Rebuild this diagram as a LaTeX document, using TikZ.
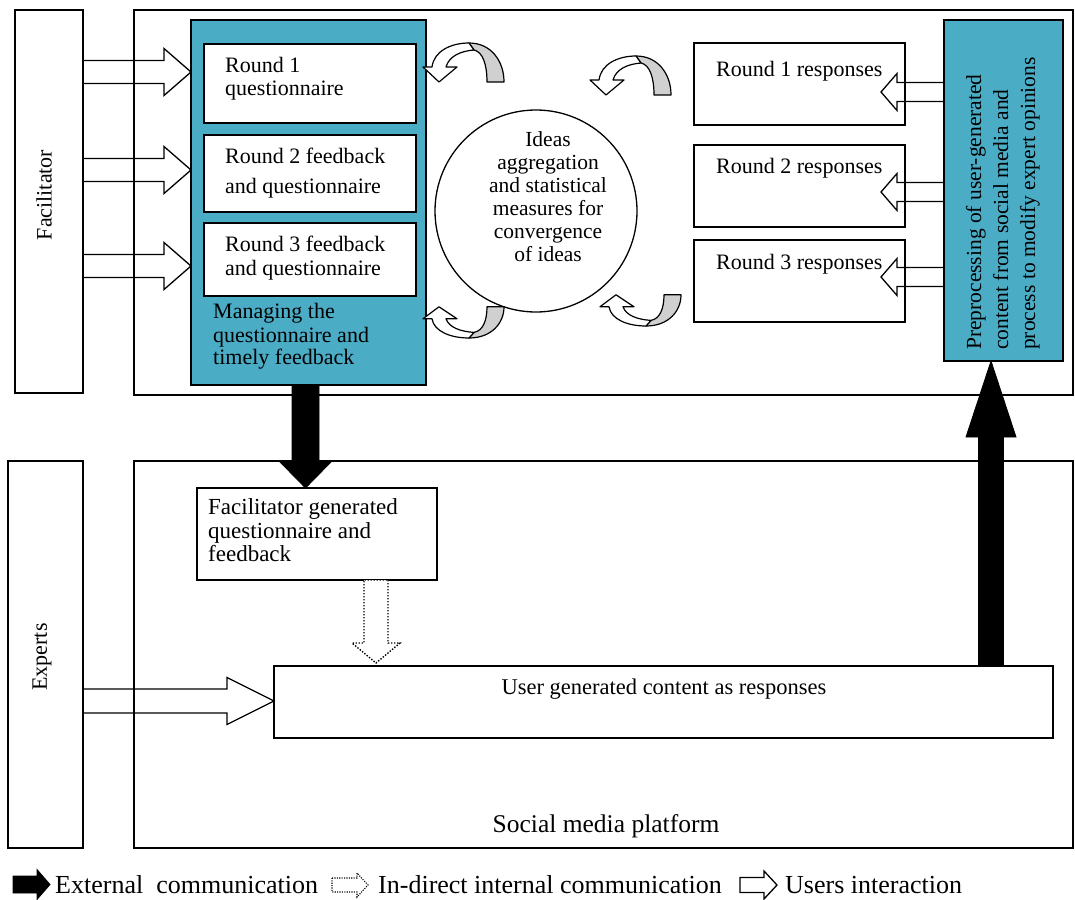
\documentclass[tikz,border=0pt]{standalone}
\usepackage{fontspec}
\setmainfont{Liberation Serif}
\usetikzlibrary{calc}
\definecolor{panelblue}{HTML}{4BACC6}
\definecolor{ribbongray}{HTML}{D0D0D0}

% block arrow: style, tail, tip, half shaft width, half head width, head length
\newcommand\blockarrow[6]{%
  \coordinate (ba-h) at ($(#3)!#6!(#2)$);
  \path[#1] ($(#2)!#4!90:(#3)$) -- ($(ba-h)!#4!90:(#3)$) -- ($(ba-h)!#5!90:(#3)$)
    -- (#3) -- ($(ba-h)!#5!-90:(#3)$) -- ($(ba-h)!#4!-90:(#3)$) -- ($(#2)!#4!-90:(#3)$) -- cycle;
}
% twisted curved ribbon arrow, drawn in local coordinates
\newcommand\ribbonarrow[1]{%
  \begin{scope}[#1]
    \path[ribbon, fill=ribbongray] (44,0) .. controls (66,0) and (79,18) .. (79,39)
      -- (62,39) .. controls (62,22) and (58,9) .. (49,7) -- cycle;
    \path[ribbon, fill=white] (7,24) .. controls (9,8) and (26,0) .. (44,0)
      -- (49,7) .. controls (36,8) and (24,13) .. (21,24) -- (32,24) -- (14,39) -- (-2,24) -- cycle;
  \end{scope}}

\tikzset{
  frame/.style={draw, line width=1.3pt, inner sep=0pt, outer sep=0pt, anchor=north west},
  box/.style={frame, fill=white},
  bluebox/.style={frame, fill=panelblue},
  lbl/.style={inner sep=0pt, font=\fontsize{22}{24}\selectfont},
  hollow/.style={draw, line width=1.3pt, line join=miter},
  extarrow/.style={draw, fill=black, line width=0.8pt},
  dotarrow/.style={draw, fill=white, line width=1.4pt, dash pattern=on 1.4pt off 1.6pt},
  ribbon/.style={draw, line width=1.2pt, line join=round},
}

\begin{document}
\begin{tikzpicture}[x=1pt, y=-1pt]
\useasboundingbox (0,0) rectangle (1075,899);

% ---------- upper frame: facilitator side ----------
\node[frame, minimum width=68pt, minimum height=383pt] (fac) at (15,10) {};
\node[lbl, rotate=90] (factxt) at (44,195) {Facilitator};
\node[frame, minimum width=939pt, minimum height=385pt] (top) at (134,10) {};

\node[bluebox, minimum width=235pt, minimum height=365pt] (mgr) at (191,20) {};
\node[box, minimum width=212pt, minimum height=79pt] (q1) at (204,44) {};
\node[box, minimum width=212pt, minimum height=77pt] (q2) at (204,135) {};
\node[box, minimum width=212pt, minimum height=73pt] (q3) at (204,223) {};
\node[lbl, anchor=base west] (q1a) at (225,72) {Round 1};
\node[lbl, anchor=base west] (q1b) at (225,95) {questionnaire};
\node[lbl, anchor=base west] (q2a) at (225,163) {Round 2 feedback};
\node[lbl, anchor=base west] (q2b) at (225,193) {and questionnaire};
\node[lbl, anchor=base west] (q3a) at (225,251) {Round 3 feedback};
\node[lbl, anchor=base west] (q3b) at (225,275) {and questionnaire};
\node[lbl, anchor=base west] (m1) at (213,318) {Managing the};
\node[lbl, anchor=base west] (m2) at (213,342) {questionnaire and};
\node[lbl, anchor=base west] (m3) at (213,364) {timely feedback};

\node[circle, draw, line width=1.3pt, minimum size=202pt, inner sep=0pt] (ideas) at (536,211) {};
\node[lbl, align=center, font=\fontsize{21.5}{23}\selectfont] (ideastxt) at (548,197)
  {Ideas\\aggregation\\and statistical\\measures for\\convergence\\of ideas};

\node[box, minimum width=211pt, minimum height=82pt] (r1) at (694,43) {};
\node[box, minimum width=211pt, minimum height=82pt] (r2) at (694,145) {};
\node[box, minimum width=211pt, minimum height=82pt] (r3) at (694,240) {};
\node[lbl, anchor=base west] (r1t) at (716,77) {Round 1 responses};
\node[lbl, anchor=base west] (r2t) at (716,173) {Round 2 responses};
\node[lbl, anchor=base west] (r3t) at (716,269) {Round 3 responses};

\node[bluebox, minimum width=119pt, minimum height=341pt] (prep) at (944,20) {};
\node[lbl, rotate=90, anchor=base west, font=\fontsize{21.5}{24}\selectfont] (p1) at (981,350) {Preprocessing of user-generated};
\node[lbl, rotate=90, anchor=base west, font=\fontsize{21.5}{24}\selectfont] (p2) at (1008,350) {content from social media and};
\node[lbl, rotate=90, anchor=base west, font=\fontsize{21.5}{24}\selectfont] (p3) at (1035,350) {process to modify expert opinions};

% ribbon arrows around the aggregation circle
\ribbonarrow{shift={(425,43)}}
\ribbonarrow{shift={(592,56)}}
\ribbonarrow{shift={(425,338)}, yscale=-0.8}
\ribbonarrow{shift={(602,326)}, yscale=-0.8}

% ---------- lower frame: experts side ----------
\node[frame, minimum width=75pt, minimum height=387pt] (exp) at (8,461) {};
\node[lbl, rotate=90] (exptxt) at (42,657) {Experts};
\node[frame, minimum width=939pt, minimum height=387pt] (bot) at (134,461) {};
\node[lbl, anchor=base, font=\fontsize{25.5}{28}\selectfont] (smp) at (606,832) {Social media platform};

\node[box, minimum width=240pt, minimum height=92pt] (fgen) at (197,488) {};
\node[lbl, anchor=base west, font=\fontsize{23}{25}\selectfont] (f1) at (208,514) {Facilitator generated};
\node[lbl, anchor=base west, font=\fontsize{23}{25}\selectfont] (f2) at (208,538) {questionnaire and};
\node[lbl, anchor=base west, font=\fontsize{23}{25}\selectfont] (f3) at (208,561) {feedback};

\node[box, minimum width=779pt, minimum height=72pt] (ugc) at (274,666) {};
\node[lbl, anchor=base, font=\fontsize{22.5}{25}\selectfont] (ugct) at (664,694) {User generated content as responses};

% ---------- connectors ----------
\coordinate (y1) at (0,72);
\coordinate (y2) at (0,170);
\coordinate (y3) at (0,266);
\blockarrow{hollow}{fac.east |- y1}{mgr.west |- y1}{11.5pt}{23.5pt}{27pt}
\blockarrow{hollow}{fac.east |- y2}{mgr.west |- y2}{11.5pt}{23.5pt}{27pt}
\blockarrow{hollow}{fac.east |- y3}{mgr.west |- y3}{11.5pt}{23.5pt}{27pt}

\coordinate (t1) at (881,92);
\coordinate (t2) at (881,192);
\coordinate (t3) at (881,277);
\blockarrow{hollow}{prep.west |- t1}{t1}{9.5pt}{18.5pt}{16pt}
\blockarrow{hollow}{prep.west |- t2}{t2}{9.5pt}{18.5pt}{16pt}
\blockarrow{hollow}{prep.west |- t3}{t3}{9.5pt}{18.5pt}{16pt}

\coordinate (ye) at (0,701);
\blockarrow{hollow}{exp.east |- ye}{ugc.west |- ye}{12pt}{23.5pt}{47pt}

\coordinate (xd) at (305.5,0);
\blockarrow{extarrow}{mgr.south -| xd}{fgen.north -| xd}{13.5pt}{25.5pt}{26pt}

\coordinate (xu) at (991,0);
\blockarrow{extarrow}{ugc.north -| xu}{prep.south -| xu}{12.5pt}{25pt}{76pt}

\coordinate (xi) at (376,0);
\coordinate (dtip) at (376,663);
\blockarrow{dotarrow}{fgen.south -| xi}{dtip}{12pt}{24pt}{20pt}

% ---------- legend ----------
\coordinate (la0) at (13,884.5);
\coordinate (la1) at (50,884.5);
\blockarrow{extarrow}{la0}{la1}{8.5pt}{15pt}{13pt}
\node[lbl, anchor=base west, font=\fontsize{26}{28}\selectfont] (lt1) at (55,893) {External\ \ communication};
\coordinate (lb0) at (332,885);
\coordinate (lb1) at (368,885);
\blockarrow{dotarrow, line width=1.1pt, dash pattern=on 1.1pt off 1.3pt}{lb0}{lb1}{7pt}{12pt}{11pt}
\node[lbl, anchor=base west, font=\fontsize{26}{28}\selectfont] (lt2) at (378,893) {In-direct internal communication};
\coordinate (lc0) at (740,885);
\coordinate (lc1) at (777,885);
\blockarrow{hollow}{lc0}{lc1}{7.5pt}{14pt}{13pt}
\node[lbl, anchor=base west, font=\fontsize{26}{28}\selectfont] (lt3) at (785,893) {Users interaction};
\end{tikzpicture}
\end{document}
